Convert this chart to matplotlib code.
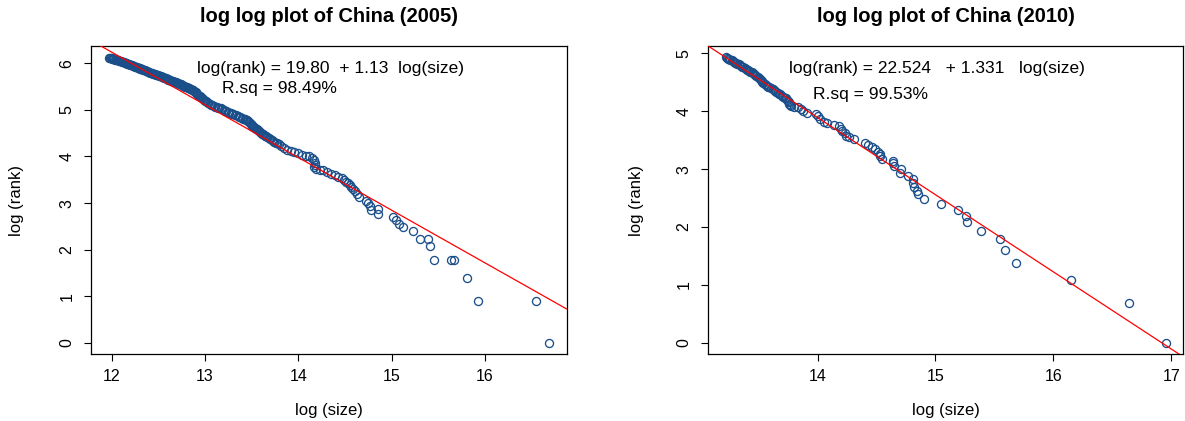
import matplotlib
matplotlib.use("Agg")
import matplotlib.pyplot as plt
import numpy as np

plt.rcParams['font.family'] = ['Liberation Sans', 'DejaVu Sans']

# ---------------- data ----------------
titles = ["log log plot of China (2005)", "log log plot of China (2010)"]

logsize_2005 = [
    11.97, 11.98, 11.99, 12.00, 12.01, 12.02, 12.03, 12.04, 12.05, 12.06,
    12.07, 12.08, 12.09, 12.10, 12.11, 12.12, 12.13, 12.14, 12.15, 12.16,
    12.17, 12.18, 12.19, 12.20, 12.21, 12.22, 12.23, 12.24, 12.25, 12.26,
    12.27, 12.28, 12.29, 12.30, 12.31, 12.32, 12.33, 12.34, 12.35, 12.36,
    12.37, 12.38, 12.39, 12.40, 12.41, 12.42, 12.43, 12.44, 12.45, 12.46,
    12.47, 12.48, 12.49, 12.50, 12.51, 12.52, 12.53, 12.54, 12.55, 12.56,
    12.57, 12.58, 12.59, 12.60, 12.61, 12.62, 12.63, 12.64, 12.65, 12.66,
    12.67, 12.68, 12.69, 12.70, 12.71, 12.72, 12.73, 12.74, 12.75, 12.76,
    12.77, 12.78, 12.79, 12.80, 12.81, 12.82, 12.83, 12.84, 12.85, 12.86,
    12.87, 12.88, 12.89, 12.90, 12.91, 12.92, 12.93, 12.94, 12.95, 12.96,
    12.97, 12.98, 12.99, 13.00, 13.01, 13.02, 13.03,
    13.05, 13.065, 13.08, 13.095, 13.11, 13.125, 13.14, 13.155, 13.17, 13.185,
    13.20, 13.215, 13.23, 13.245, 13.26, 13.275, 13.29, 13.305, 13.32, 13.335,
    13.35, 13.365, 13.38, 13.395, 13.41, 13.425, 13.44, 13.45, 13.46, 13.47,
    13.48, 13.49, 13.50, 13.51, 13.52, 13.53, 13.54, 13.55, 13.56, 13.57,
    13.58, 13.59, 13.60, 13.61, 13.62, 13.63, 13.64, 13.655, 13.67, 13.685,
    13.70, 13.715, 13.73, 13.745, 13.76, 13.775, 13.79, 13.82, 13.85, 13.88,
    13.92, 13.96, 14.00, 14.04, 14.08, 14.12, 14.15, 14.17, 14.18, 14.18,
    14.17, 14.19, 14.23, 14.27, 14.31, 14.35, 14.39, 14.43, 14.47, 14.49,
    14.51, 14.53, 14.55, 14.57, 14.59, 14.61, 14.63, 14.65, 14.73, 14.75,
    14.77, 14.78, 14.86, 14.86, 15.02, 15.05, 15.08, 15.12, 15.23, 15.31,
    15.39, 15.41, 15.45, 15.64, 15.67, 15.81, 15.93, 16.55, 16.69]
logrank_2005 = [
    6.12, 6.115, 6.11, 6.105, 6.10, 6.095, 6.09, 6.08, 6.07, 6.065,
    6.06, 6.055, 6.05, 6.04, 6.03, 6.025, 6.02, 6.015, 6.01, 6.00,
    5.99, 5.985, 5.98, 5.97, 5.96, 5.955, 5.95, 5.94, 5.93, 5.92,
    5.91, 5.905, 5.90, 5.89, 5.88, 5.875, 5.87, 5.86, 5.85, 5.845,
    5.84, 5.83, 5.82, 5.81, 5.80, 5.795, 5.79, 5.78, 5.77, 5.765,
    5.76, 5.755, 5.75, 5.74, 5.73, 5.725, 5.72, 5.71, 5.70, 5.69,
    5.68, 5.675, 5.67, 5.66, 5.65, 5.645, 5.64, 5.63, 5.62, 5.61,
    5.60, 5.595, 5.59, 5.58, 5.57, 5.56, 5.55, 5.545, 5.54, 5.53,
    5.52, 5.51, 5.50, 5.49, 5.48, 5.47, 5.46, 5.45, 5.44, 5.43,
    5.42, 5.405, 5.39, 5.375, 5.36, 5.34, 5.32, 5.305, 5.29, 5.275,
    5.26, 5.24, 5.22, 5.20, 5.18, 5.16, 5.14,
    5.12, 5.11, 5.10, 5.085, 5.07, 5.06, 5.05, 5.04, 5.03, 5.015,
    5.00, 4.985, 4.97, 4.955, 4.94, 4.93, 4.92, 4.91, 4.90, 4.885,
    4.87, 4.855, 4.84, 4.825, 4.81, 4.80, 4.79, 4.775, 4.76, 4.74,
    4.72, 4.70, 4.68, 4.66, 4.64, 4.625, 4.61, 4.595, 4.58, 4.56,
    4.54, 4.52, 4.50, 4.49, 4.48, 4.465, 4.45, 4.435, 4.42, 4.40,
    4.38, 4.36, 4.34, 4.32, 4.30, 4.28, 4.26, 4.22, 4.18, 4.15,
    4.12, 4.10, 4.07, 4.04, 4.02, 4.00, 3.97, 3.92, 3.87, 3.82,
    3.77, 3.74, 3.72, 3.70, 3.67, 3.63, 3.60, 3.57, 3.54, 3.50,
    3.46, 3.43, 3.39, 3.35, 3.30, 3.26, 3.20, 3.14, 3.04, 3.00,
    2.93, 2.86, 2.87, 2.76, 2.70, 2.63, 2.56, 2.48, 2.40, 2.24,
    2.24, 2.07, 1.79, 1.79, 1.79, 1.39, 0.91, 0.91, 0.00]

logsize_2010 = [
    13.22, 13.23, 13.24, 13.25, 13.26, 13.27, 13.28, 13.29, 13.30, 13.31,
    13.32, 13.33, 13.34, 13.35, 13.36, 13.37, 13.38, 13.39, 13.40, 13.41,
    13.42, 13.43, 13.44, 13.45, 13.46, 13.47, 13.48, 13.49, 13.50, 13.51,
    13.52, 13.525, 13.53, 13.54, 13.55, 13.56, 13.57, 13.58, 13.59, 13.605,
    13.62, 13.63, 13.64, 13.65, 13.66, 13.67, 13.68, 13.695, 13.71, 13.72,
    13.73, 13.74, 13.75, 13.755, 13.76, 13.765, 13.77,
    13.80, 13.83, 13.86, 13.88, 13.91, 13.99, 14.00, 14.02, 14.05, 14.08,
    14.14, 14.18, 14.20, 14.21, 14.23, 14.24, 14.27, 14.31, 14.40, 14.43,
    14.46, 14.49, 14.51, 14.53, 14.53, 14.55, 14.64, 14.64, 14.65, 14.71,
    14.70, 14.77, 14.81, 14.81, 14.82, 14.84, 14.85, 14.90, 15.05, 15.19,
    15.26, 15.27, 15.39, 15.55, 15.59, 15.68, 16.15, 16.64, 16.96]
logrank_2010 = [
    4.93, 4.92, 4.91, 4.90, 4.89, 4.88, 4.87, 4.855, 4.84, 4.83,
    4.82, 4.81, 4.80, 4.785, 4.77, 4.755, 4.74, 4.73, 4.72, 4.71,
    4.70, 4.685, 4.67, 4.655, 4.64, 4.625, 4.61, 4.595, 4.58, 4.56,
    4.54, 4.52, 4.50, 4.485, 4.47, 4.455, 4.44, 4.425, 4.41, 4.395,
    4.38, 4.365, 4.35, 4.335, 4.32, 4.305, 4.29, 4.27, 4.25, 4.235,
    4.22, 4.20, 4.18, 4.155, 4.13, 4.11, 4.09,
    4.08, 4.07, 4.04, 4.01, 3.97, 3.95, 3.91, 3.86, 3.82, 3.79,
    3.77, 3.74, 3.70, 3.66, 3.62, 3.58, 3.55, 3.52, 3.46, 3.42,
    3.38, 3.34, 3.30, 3.26, 3.22, 3.18, 3.14, 3.10, 3.05, 3.00,
    2.94, 2.89, 2.83, 2.77, 2.70, 2.63, 2.57, 2.48, 2.40, 2.30,
    2.20, 2.08, 1.94, 1.79, 1.61, 1.38, 1.09, 0.69, 0.00]

intercepts = [19.80, 22.524]
slopes = [-1.13, -1.331]
eq_texts = ["log(rank) = 19.80  + 1.13  log(size)",
            "log(rank) = 22.524   + 1.331   log(size)"]
rsq_texts = ["R.sq = 98.49%", "R.sq = 99.53%"]

xticks = [[12, 13, 14, 15, 16], [14, 15, 16, 17]]
yticks = [[0, 1, 2, 3, 4, 5, 6], [0, 1, 2, 3, 4, 5]]

# ---------------- layout ----------------
W, H = 1185, 421
fig = plt.figure(figsize=(W / 100, H / 100), dpi=100)

boxes = [(91, 567), (708, 1183)]
top_px, bot_px = 46, 354
xlims = [(11.78, 16.88), (13.07, 17.10)]
ylims = [(-0.236, 6.37), (-0.19, 5.126)]
eq_pos = [(14.35, 5.88), (15.01, 4.73)]
rsq_pos = [(13.80, 5.46), (14.45, 4.29)]
ylabel_x = [17, 636]

xs = [logsize_2005, logsize_2010]
ys = [logrank_2005, logrank_2010]

pt_color = "#1B4F8A"

for i in range(2):
    l, r = boxes[i]
    ax = fig.add_axes([l / W, 1 - bot_px / H, (r - l) / W, (bot_px - top_px) / H])
    ax.plot(xs[i], ys[i], linestyle='none', marker='o', markersize=5.8,
            markerfacecolor='none', markeredgecolor=pt_color, markeredgewidth=0.95,
            zorder=3)
    xl = np.array(xlims[i])
    ax.plot(xl, intercepts[i] + slopes[i] * xl, color='red', lw=0.9, zorder=4)
    ax.set_xlim(*xlims[i])
    ax.set_ylim(*ylims[i])
    ax.set_xticks(xticks[i])
    ax.set_yticks(yticks[i])
    ax.set_xticklabels([str(t) for t in xticks[i]], fontsize=11.5)
    ax.set_yticklabels([str(t) for t in yticks[i]], fontsize=11.5,
                       rotation=90, va='center')
    ax.tick_params(axis='both', direction='out', length=5, width=0.8,
                   color='black')
    ax.tick_params(axis='x', pad=6)
    ax.tick_params(axis='y', pad=7)
    for s in ax.spines.values():
        s.set_color('black')
        s.set_linewidth(0.9)
    ax.text(eq_pos[i][0], eq_pos[i][1], eq_texts[i], fontsize=12.5,
            ha='center', va='center')
    ax.text(rsq_pos[i][0], rsq_pos[i][1], rsq_texts[i], fontsize=12.5,
            ha='center', va='center')
    cx = (l + r) / 2 / W
    fig.text(cx, 1 - 16 / H, titles[i], fontsize=14.5, fontweight='bold',
             ha='center', va='center')
    fig.text(cx, 1 - 410 / H, "log (size)", fontsize=12, ha='center', va='center')
    fig.text(ylabel_x[i] / W, 1 - 200 / H, "log (rank)", fontsize=12,
             ha='center', va='center', rotation=90)

fig.savefig("out.png", dpi=100, facecolor='white')
